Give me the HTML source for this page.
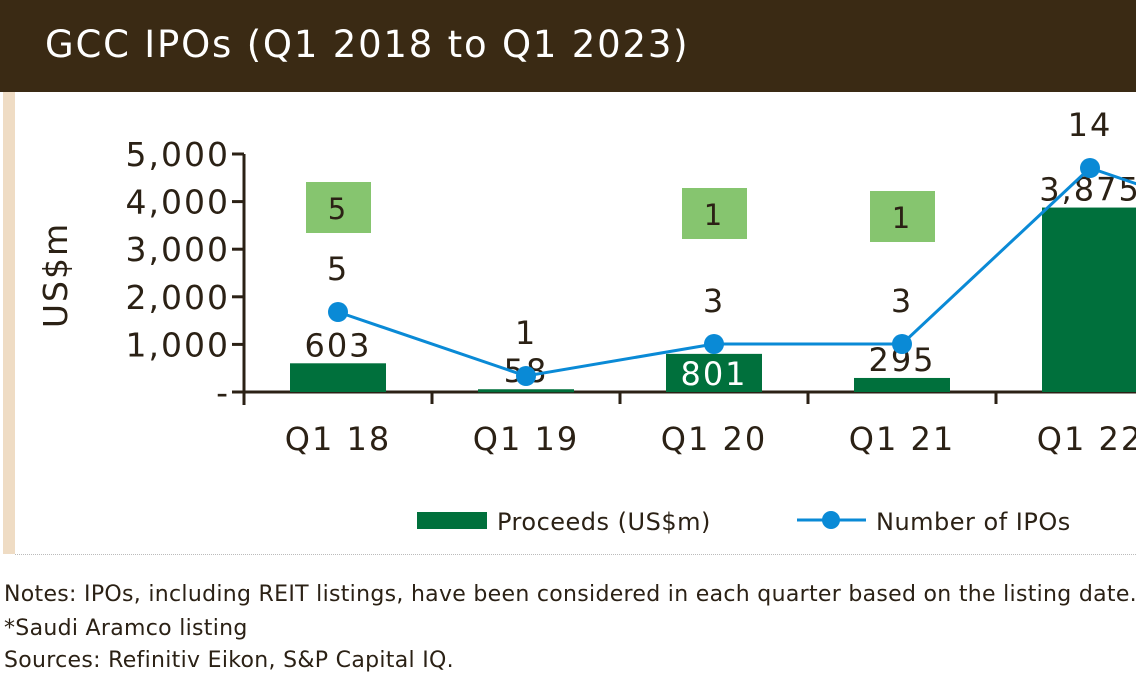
<!DOCTYPE html>
<html><head><meta charset="utf-8"><style>
body{margin:0;width:1136px;height:675px;overflow:hidden;background:#fff;font-family:"DejaVu Sans",sans-serif;}
#hdr{position:absolute;left:0;top:0;width:1136px;height:92px;background:#3a2a14;}
#hdr span{position:absolute;left:45px;top:23px;color:#fff;font-size:37px;letter-spacing:1.8px;white-space:nowrap}
#stripe{position:absolute;left:3px;top:92px;width:12px;height:462px;background:#efdcc4}
#bot{position:absolute;left:15px;top:554px;width:1121px;border-top:1px dotted #bbb}
.note{position:absolute;left:4px;font-size:22px;color:#2b2115;white-space:nowrap;letter-spacing:0.3px}
svg{position:absolute;left:0;top:0}
svg text{font-family:"DejaVu Sans",sans-serif;fill:#2b2115;letter-spacing:2px}
</style></head><body>
<div id="hdr"><span>GCC IPOs (Q1 2018 to Q1 2023)</span></div>
<div id="stripe"></div>
<div id="bot"></div>
<div class="note" style="top:582px">Notes: IPOs, including REIT listings, have been considered in each quarter based on the listing date.</div>
<div class="note" style="top:616px">*Saudi Aramco listing</div>
<div class="note" style="top:648px">Sources: Refinitiv Eikon, S&amp;P Capital IQ.</div>
<svg id="chart" width="1136" height="675"></svg>
<script>
const categories=["Q1 18","Q1 19","Q1 20","Q1 21","Q1 22","Q1 23"];
const proceeds=[603,58,801,295,3875,1500];
const ipoCounts=[5,1,3,3,14,10];
const boxLabels=[5,null,1,1,null,null];
const yTicks=[0,1000,2000,3000,4000,5000];
const yTickLabels=["-","1,000","2,000","3,000","4,000","5,000"];
const NS="http://www.w3.org/2000/svg";
const svg=document.getElementById('chart');
const X0=244,BAND=188,Y0=392;
const xC=i=>X0+BAND*(i+0.5);
const yP=v=>Y0-v*0.0476;
const yN=v=>Y0-v*16;
function mk(t,a,txt){const e=document.createElementNS(NS,t);for(const k in a)e.setAttribute(k,a[k]);if(txt!=null)e.textContent=txt;svg.appendChild(e);return e;}
let e=mk('line',{x1:X0,y1:yP(5000),x2:X0,y2:Y0+13,stroke:'#2b2115','stroke-width':3});

e=mk('line',{x1:X0-12,y1:Y0,x2:1136,y2:Y0,stroke:'#2b2115','stroke-width':3});

yTicks.forEach((t,i)=>{
 e=mk('line',{x1:X0-12,y1:yP(t),x2:X0,y2:yP(t),stroke:'#2b2115','stroke-width':3});
 
 e=mk('text',{x:230,y:yP(t)+12,'text-anchor':'end','font-size':33},yTickLabels[i]);
 
});
e=mk('text',{x:0,y:0,'font-size':33,'text-anchor':'middle',transform:'translate(67,275) rotate(-90)'},'US$m');

categories.forEach((c,i)=>{
 e=mk('line',{x1:X0+BAND*(i+1),y1:Y0,x2:X0+BAND*(i+1),y2:Y0+12,stroke:'#2b2115','stroke-width':3});
 
 e=mk('text',{x:xC(i),y:450,'text-anchor':'middle','font-size':32},c);
 
 const top=yP(proceeds[i]);
 e=mk('rect',{x:xC(i)-48,y:top,width:96,height:Math.max(Y0-top,3),fill:'#00703c'});
 
 const inside=i==2;
 e=mk('text',{x:xC(i),y:inside?top+31:top-7,'text-anchor':'middle','font-size':32,style:inside?'fill:#fff':''},proceeds[i].toLocaleString('en-US'));
 
 if(boxLabels[i]!=null){
  e=mk('rect',{x:xC(i)-32,y:182+i*3,width:65,height:51,fill:'#86c56f'});
  
  e=mk('text',{x:xC(i),y:219+i*3,'text-anchor':'middle','font-size':29},boxLabels[i]);
  
 }
});
e=mk('polyline',{points:ipoCounts.map((v,i)=>xC(i)+','+yN(v)).join(' '),fill:'none',stroke:'#0a8ad6','stroke-width':3});

ipoCounts.forEach((v,i)=>{
 e=mk('circle',{cx:xC(i),cy:yN(v),r:10,fill:'#0a8ad6'});
 
 e=mk('text',{x:xC(i),y:yN(v)-32,'text-anchor':'middle','font-size':32},v);
 
});
e=mk('rect',{x:417,y:512,width:70,height:17,fill:'#00703c'});

e=mk('text',{x:497,y:530,'font-size':24,style:'letter-spacing:0.5px'},'Proceeds (US$m)');

e=mk('line',{x1:797,y1:520,x2:866,y2:520,stroke:'#0a8ad6','stroke-width':3});

e=mk('circle',{cx:831,cy:520,r:9,fill:'#0a8ad6'});

e=mk('text',{x:876,y:530,'font-size':24,style:'letter-spacing:0.5px'},'Number of IPOs');

</script>
</body></html>
